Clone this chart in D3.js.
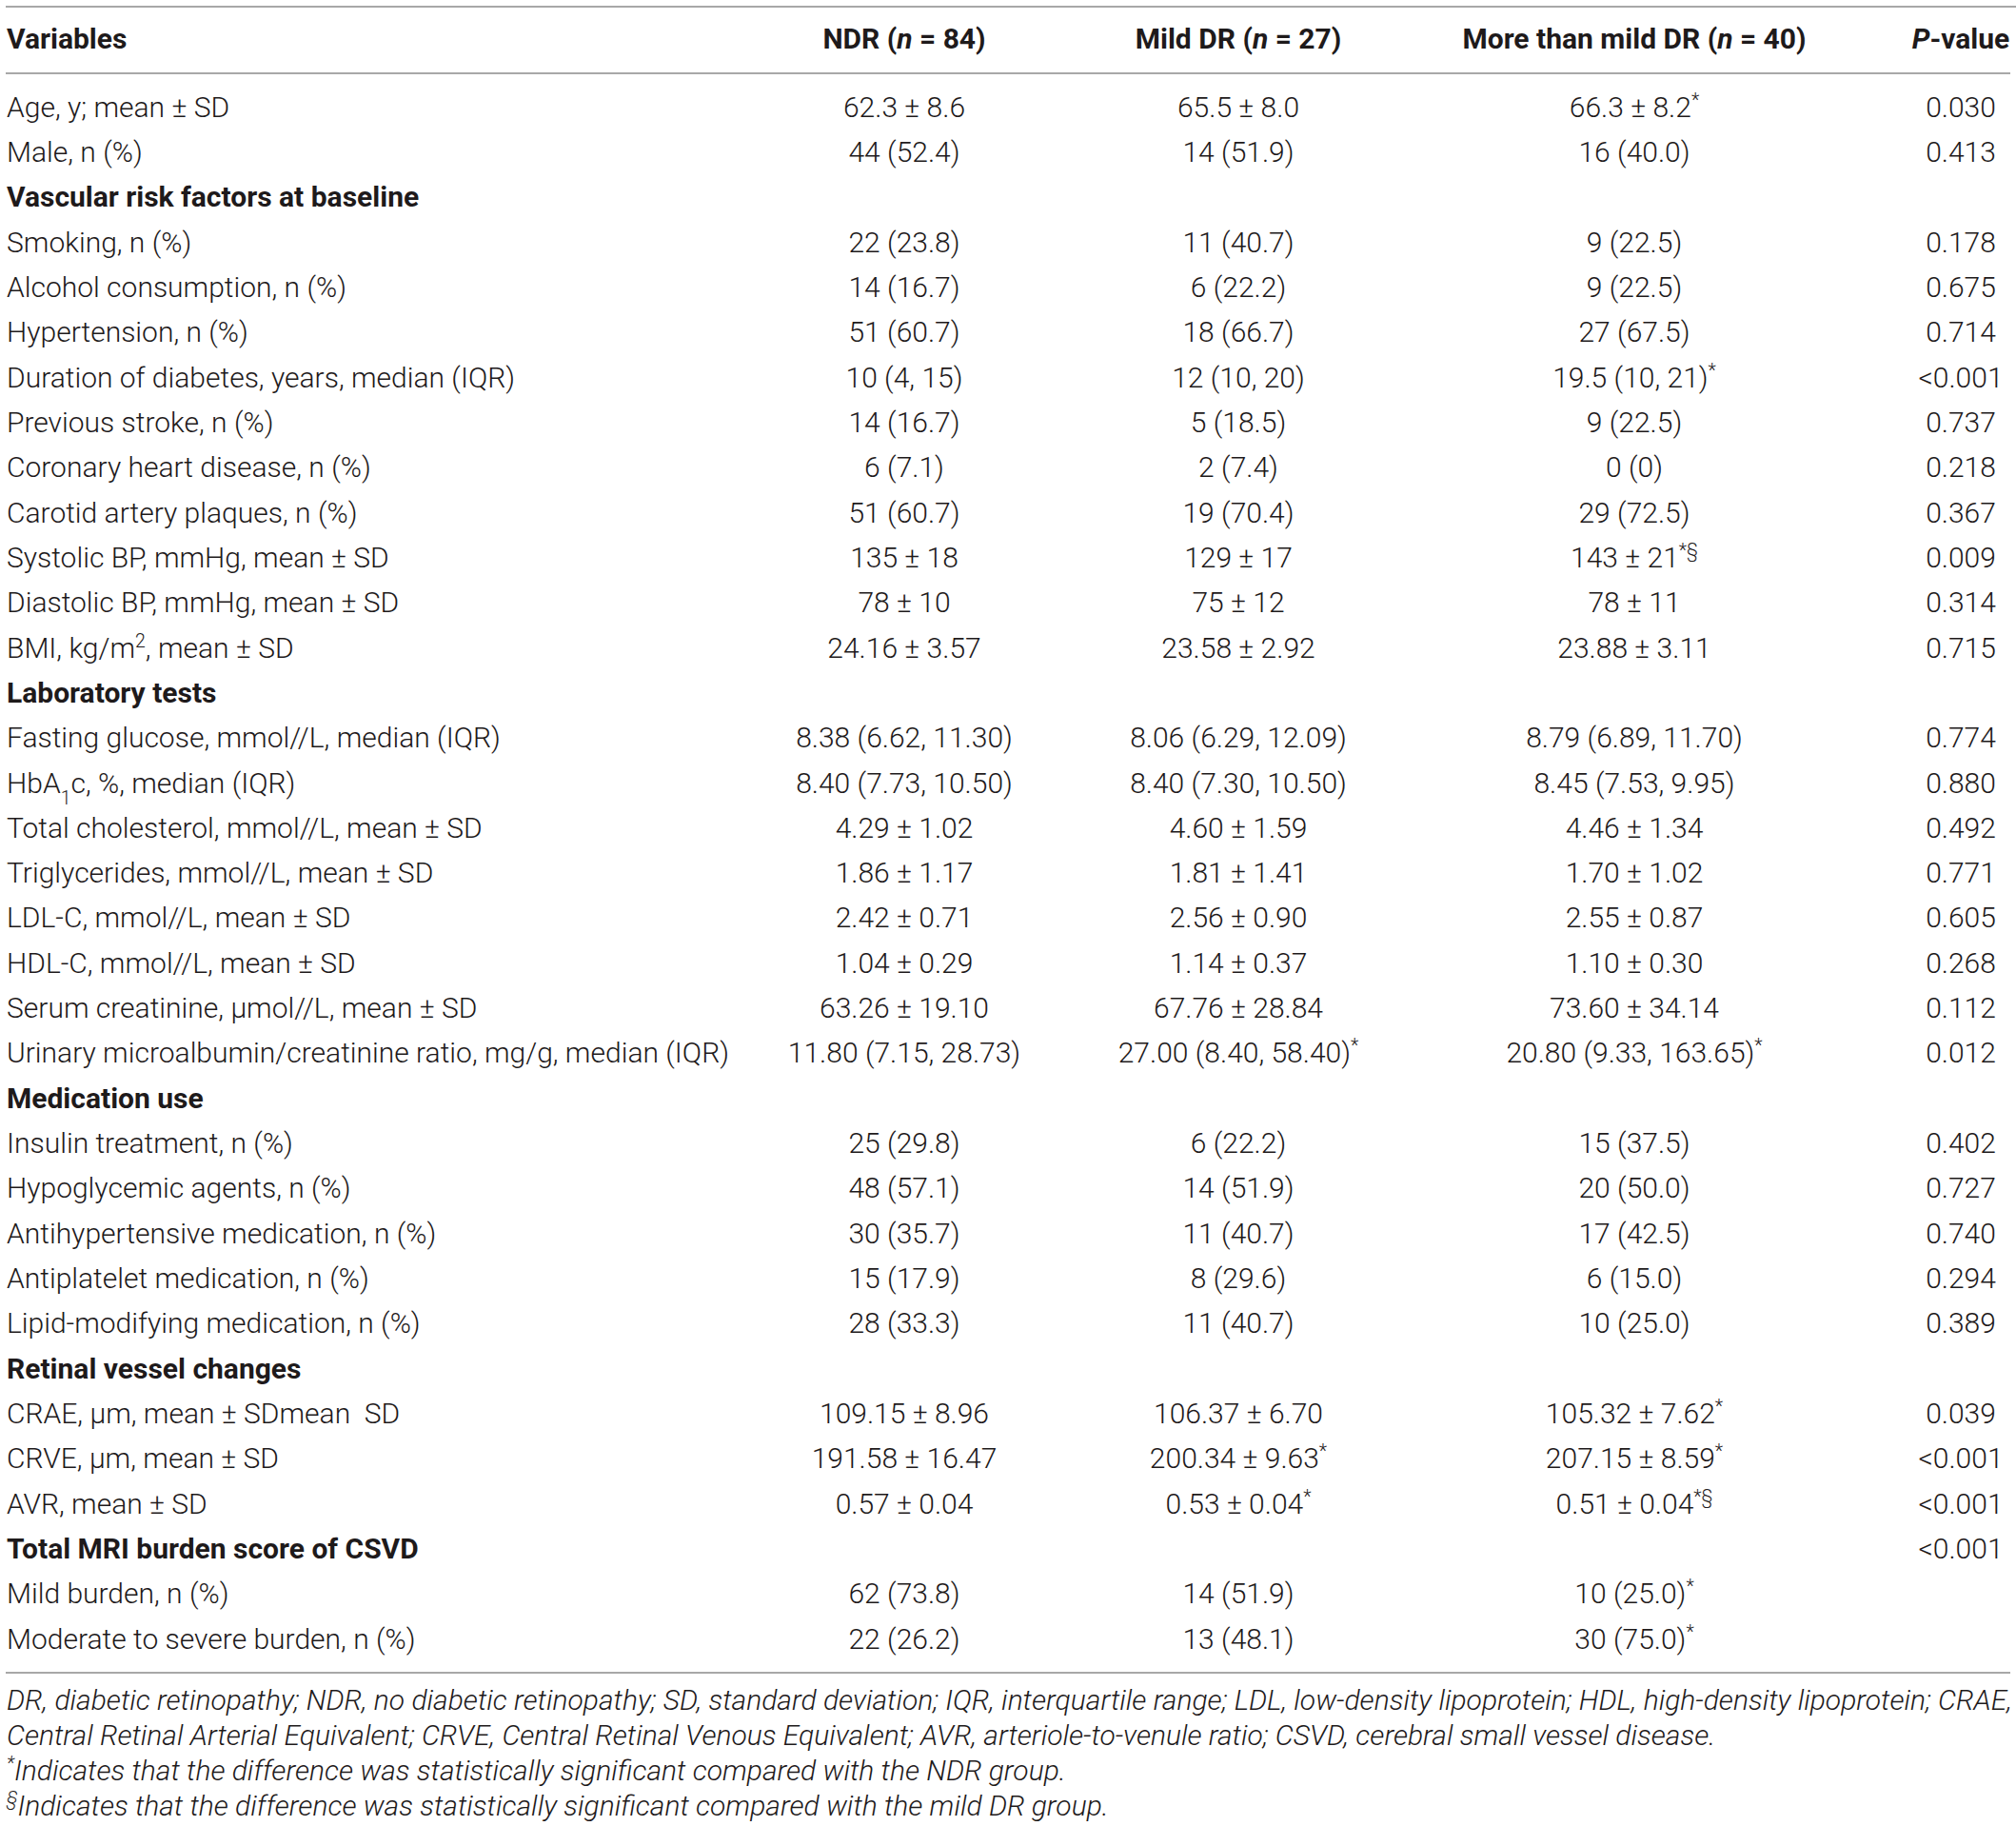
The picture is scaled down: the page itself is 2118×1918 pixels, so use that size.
<!DOCTYPE html>
<html>
<head>
<meta charset="utf-8">
<script src="https://cdn.jsdelivr.net/npm/d3@7"></script>
<style>
  body { margin: 0; background: #fff; }
  svg text { font-family: Roboto, "Liberation Sans", sans-serif; white-space: pre; }
</style>
</head>
<body>
<svg id="chart"></svg>
<script>
// table content
// ^{..} = superscript, _{..} = subscript, ~{..} = italic
const headers = ["Variables", "NDR (~{n} = 84)", "Mild DR (~{n} = 27)", "More than mild DR (~{n} = 40)", "~{P}-value"];

const variables = [
  "Age, y; mean ± SD",
  "Male, n (%)",
  "Vascular risk factors at baseline",
  "Smoking, n (%)",
  "Alcohol consumption, n (%)",
  "Hypertension, n (%)",
  "Duration of diabetes, years, median (IQR)",
  "Previous stroke, n (%)",
  "Coronary heart disease, n (%)",
  "Carotid artery plaques, n (%)",
  "Systolic BP, mmHg, mean ± SD",
  "Diastolic BP, mmHg, mean ± SD",
  "BMI, kg/m^{2}, mean ± SD",
  "Laboratory tests",
  "Fasting glucose, mmol//L, median (IQR)",
  "HbA_{1}c, %, median (IQR)",
  "Total cholesterol, mmol//L, mean ± SD",
  "Triglycerides, mmol//L, mean ± SD",
  "LDL-C, mmol//L, mean ± SD",
  "HDL-C, mmol//L, mean ± SD",
  "Serum creatinine, μmol//L, mean ± SD",
  "Urinary microalbumin/creatinine ratio, mg/g, median (IQR)",
  "Medication use",
  "Insulin treatment, n (%)",
  "Hypoglycemic agents, n (%)",
  "Antihypertensive medication, n (%)",
  "Antiplatelet medication, n (%)",
  "Lipid-modifying medication, n (%)",
  "Retinal vessel changes",
  "CRAE, μm, mean ± SDmean  SD",
  "CRVE, μm, mean ± SD",
  "AVR, mean ± SD",
  "Total MRI burden score of CSVD",
  "Mild burden, n (%)",
  "Moderate to severe burden, n (%)"
];

const sectionRows = [2, 13, 22, 28, 32];

const ndr = [
  "62.3 ± 8.6", "44 (52.4)", "", "22 (23.8)", "14 (16.7)", "51 (60.7)", "10 (4, 15)",
  "14 (16.7)", "6 (7.1)", "51 (60.7)", "135 ± 18", "78 ± 10", "24.16 ± 3.57", "",
  "8.38 (6.62, 11.30)", "8.40 (7.73, 10.50)", "4.29 ± 1.02", "1.86 ± 1.17", "2.42 ± 0.71",
  "1.04 ± 0.29", "63.26 ± 19.10", "11.80 (7.15, 28.73)", "", "25 (29.8)", "48 (57.1)",
  "30 (35.7)", "15 (17.9)", "28 (33.3)", "", "109.15 ± 8.96", "191.58 ± 16.47",
  "0.57 ± 0.04", "", "62 (73.8)", "22 (26.2)"
];

const mildDR = [
  "65.5 ± 8.0", "14 (51.9)", "", "11 (40.7)", "6 (22.2)", "18 (66.7)", "12 (10, 20)",
  "5 (18.5)", "2 (7.4)", "19 (70.4)", "129 ± 17", "75 ± 12", "23.58 ± 2.92", "",
  "8.06 (6.29, 12.09)", "8.40 (7.30, 10.50)", "4.60 ± 1.59", "1.81 ± 1.41", "2.56 ± 0.90",
  "1.14 ± 0.37", "67.76 ± 28.84", "27.00 (8.40, 58.40)^{*}", "", "6 (22.2)", "14 (51.9)",
  "11 (40.7)", "8 (29.6)", "11 (40.7)", "", "106.37 ± 6.70", "200.34 ± 9.63^{*}",
  "0.53 ± 0.04^{*}", "", "14 (51.9)", "13 (48.1)"
];

const moreDR = [
  "66.3 ± 8.2^{*}", "16 (40.0)", "", "9 (22.5)", "9 (22.5)", "27 (67.5)", "19.5 (10, 21)^{*}",
  "9 (22.5)", "0 (0)", "29 (72.5)", "143 ± 21^{*§}", "78 ± 11", "23.88 ± 3.11", "",
  "8.79 (6.89, 11.70)", "8.45 (7.53, 9.95)", "4.46 ± 1.34", "1.70 ± 1.02", "2.55 ± 0.87",
  "1.10 ± 0.30", "73.60 ± 34.14", "20.80 (9.33, 163.65)^{*}", "", "15 (37.5)", "20 (50.0)",
  "17 (42.5)", "6 (15.0)", "10 (25.0)", "", "105.32 ± 7.62^{*}", "207.15 ± 8.59^{*}",
  "0.51 ± 0.04^{*§}", "", "10 (25.0)^{*}", "30 (75.0)^{*}"
];

const pValues = [
  "0.030", "0.413", "", "0.178", "0.675", "0.714", "<0.001", "0.737", "0.218", "0.367",
  "0.009", "0.314", "0.715", "", "0.774", "0.880", "0.492", "0.771", "0.605", "0.268",
  "0.112", "0.012", "", "0.402", "0.727", "0.740", "0.294", "0.389", "", "0.039",
  "<0.001", "<0.001", "<0.001", "", ""
];

const footnotes = [
  "DR, diabetic retinopathy; NDR, no diabetic retinopathy; SD, standard deviation; IQR, interquartile range; LDL, low-density lipoprotein; HDL, high-density lipoprotein; CRAE,",
  "Central Retinal Arterial Equivalent; CRVE, Central Retinal Venous Equivalent; AVR, arteriole-to-venule ratio; CSVD, cerebral small vessel disease.",
  "^{*}Indicates that the difference was statistically significant compared with the NDR group.",
  "^{§}Indicates that the difference was statistically significant compared with the mild DR group."
];

const W = 2118, H = 1918;
const fontSize = 30;
const textColor = "#1e1a1b";
const ruleColor = "#a8a8a8";

const svg = d3.select("#chart").attr("width", W).attr("height", H);
svg.append("rect").attr("width", W).attr("height", H).attr("fill", "#fff");

// rows: centre of each data row
const y = d3.scalePoint()
  .domain(d3.range(variables.length))
  .range([112, 1721]);

const columns = ["var", "ndr", "mild", "more", "p"];
const x = d3.scaleOrdinal()
  .domain(columns)
  .range([7, 950, 1301, 1717, 2060]);
const anchor = d3.scaleOrdinal().domain(columns).range(["start", "middle", "middle", "middle", "middle"]);

// write a string with the little markup into a text element
function rich(sel, str, size) {
  const parts = str.split(/(\^\{[^}]*\}|_\{[^}]*\}|~\{[^}]*\})/).filter(s => s.length);
  parts.forEach(p => {
    if (p.startsWith("^{")) {
      sel.append("tspan").attr("baseline-shift", "super").attr("font-size", size * 0.65)
        .text(p.slice(2, -1));
    } else if (p.startsWith("_{")) {
      sel.append("tspan").attr("baseline-shift", "sub").attr("font-size", size * 0.65)
        .text(p.slice(2, -1));
    } else if (p.startsWith("~{")) {
      sel.append("tspan").attr("font-style", "italic").text(p.slice(2, -1));
    } else {
      sel.append("tspan").text(p);
    }
  });
}

const baseOff = fontSize * 0.355;

// rules
const rules = [
  { y: 7, x2: W },
  { y: 77, x2: 2112 },
  { y: 1757, x2: 2112 }
];
svg.selectAll("line.rule").data(rules).join("line")
  .attr("class", "rule")
  .attr("x1", 6).attr("x2", d => d.x2)
  .attr("y1", d => d.y).attr("y2", d => d.y)
  .attr("stroke", ruleColor).attr("stroke-width", 2.2);

// header
svg.selectAll("text.head").data(headers).join("text")
  .attr("class", "head")
  .attr("x", (d, i) => x(columns[i]))
  .attr("y", 40 + baseOff)
  .attr("text-anchor", (d, i) => anchor(columns[i]))
  .attr("font-size", fontSize)
  .attr("font-weight", 700)
  .attr("fill", textColor)
  .each(function(d) { rich(d3.select(this), d, fontSize); });

// body cells
const cells = [];
variables.forEach((v, i) => {
  const section = sectionRows.includes(i);
  [v, ndr[i], mildDR[i], moreDR[i], pValues[i]].forEach((t, j) => {
    if (t) cells.push({ row: i, col: columns[j], text: t, bold: section && j === 0 });
  });
});

svg.selectAll("text.cell").data(cells).join("text")
  .attr("class", "cell")
  .attr("x", d => x(d.col))
  .attr("y", d => y(d.row) + baseOff)
  .attr("text-anchor", d => anchor(d.col))
  .attr("font-size", fontSize)
  .attr("font-weight", d => d.bold ? 700 : 300)
  .attr("fill", textColor)
  .each(function(d) { rich(d3.select(this), d.text, fontSize); });

// footnotes
const footY = d3.scalePoint().domain(d3.range(footnotes.length)).range([1785, 1896]);
const footSize = 30;
svg.selectAll("text.foot").data(footnotes).join("text")
  .attr("class", "foot")
  .attr("x", 7)
  .attr("y", (d, i) => footY(i) + footSize * 0.355)
  .attr("font-size", footSize)
  .attr("font-style", "italic")
  .attr("font-weight", 300)
  .attr("fill", textColor)
  .each(function(d) { rich(d3.select(this), d, footSize); });
</script>
</body>
</html>
